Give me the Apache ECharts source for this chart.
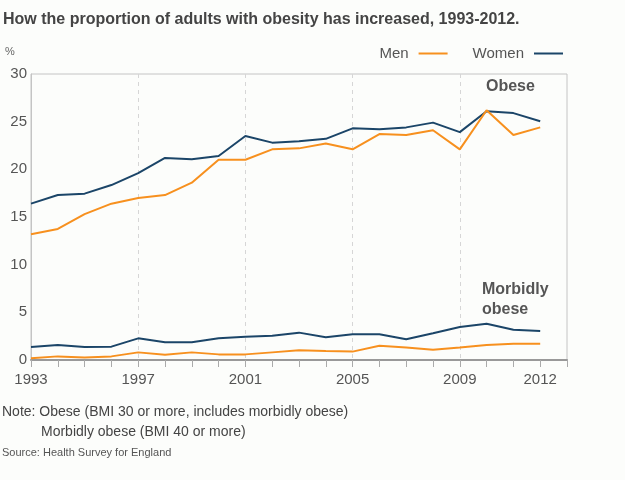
<!DOCTYPE html>
<html>
<head>
<meta charset="utf-8">
<script src="https://cdn.jsdelivr.net/npm/echarts@6/dist/echarts.min.js"></script>
<style>
html,body{margin:0;padding:0;background:#fcfdfb;}
#chart{width:625px;height:480px;}
</style>
</head>
<body>
<div id="chart"></div>
<script>
var years = ['1993','1994','1995','1996','1997','1998','1999','2000','2001','2002','2003','2004','2005','2006','2007','2008','2009','2010','2011','2012','2013'];
var xLabels = ['1993','1997','2001','2005','2009','2012'];
var dashedYears = ['1997','2001','2005','2009'];
var womenObese = [16.4,17.3,17.45,18.35,19.6,21.2,21.05,21.4,23.5,22.8,22.95,23.2,24.3,24.2,24.4,24.9,23.9,26.1,25.9,25.05];
var menObese = [13.2,13.75,15.3,16.4,17.0,17.3,18.6,21.0,21.0,22.1,22.2,22.7,22.1,23.7,23.6,24.1,22.1,26.2,23.6,24.4];
var womenMorbid = [1.37,1.57,1.37,1.4,2.27,1.85,1.85,2.27,2.45,2.55,2.87,2.38,2.7,2.7,2.17,2.8,3.46,3.81,3.18,3.04];
var menMorbid = [0.18,0.38,0.25,0.38,0.8,0.56,0.8,0.59,0.59,0.8,1.01,0.94,0.88,1.5,1.3,1.08,1.3,1.57,1.7,1.7];

var ORANGE = '#f7901e', BLUE = '#1b4568';
var FONT = '"Liberation Sans", Arial, Helvetica, sans-serif';

var chart = echarts.init(document.getElementById('chart'));
function lineSeries(name, data, color) {
  return {name: name, type: 'line', data: data, showSymbol: false, symbol: 'none',
    lineStyle: {color: color, width: 2}, itemStyle: {color: color}, silent: true, animation: false};
}
chart.setOption({
  backgroundColor: '#fcfdfb',
  animation: false,
  textStyle: {fontFamily: FONT},
  legend: {
    data: ['Men', 'Women'], right: 57, top: 41, align: 'right',
    itemWidth: 29, itemHeight: 2, itemGap: 25, icon: 'rect',
    textStyle: {fontSize: 15, color: '#555', fontFamily: FONT, padding: [0, 5, 0, 0]}
  },
  grid: {left: 31, right: 58, top: 74, bottom: 120, show: true, borderColor: '#c4c4c4', borderWidth: 1, backgroundColor: 'transparent'},
  xAxis: {
    type: 'category', data: years, boundaryGap: false,
    axisLine: {lineStyle: {color: '#999', width: 2}},
    axisTick: {show: true, interval: 0, length: 7, lineStyle: {color: '#aaa', width: 1}},
    axisLabel: {interval: function(i, v){ return xLabels.indexOf(v) >= 0; }, fontSize: 15, color: '#555', margin: 12, fontFamily: FONT},
    splitLine: {show: true, interval: function(i, v){ return dashedYears.indexOf(v) >= 0; }, lineStyle: {color: '#d6d6d6', type: [4, 4], width: 1}}
  },
  yAxis: {
    type: 'value', min: 0, max: 30, interval: 5,
    axisLine: {show: true, lineStyle: {color: '#c4c4c4', width: 1}},
    axisTick: {show: false},
    splitLine: {show: false},
    axisLabel: {fontSize: 15, color: '#555', margin: 4, fontFamily: FONT}
  },
  series: [
    lineSeries('Women', womenObese, BLUE),
    lineSeries('Men', menObese, ORANGE),
    lineSeries('Women', womenMorbid, BLUE),
    lineSeries('Men', menMorbid, ORANGE)
  ],
  graphic: [
    {type: 'text', left: 3, top: 12, style: {text: 'How the proportion of adults with obesity has increased, 1993-2012.', font: 'bold 16px ' + FONT, fill: '#444'}},
    {type: 'text', left: 5, top: 46, style: {text: '%', font: '11px ' + FONT, fill: '#666'}},
    {type: 'text', left: 486, top: 79, style: {text: 'Obese', font: 'bold 16px ' + FONT, fill: '#555'}},
    {type: 'text', left: 482, top: 280, style: {text: 'Morbidly\nobese', font: 'bold 16px ' + FONT, fill: '#555', lineHeight: 20}},
    {type: 'text', left: 2, top: 405, style: {text: 'Note: Obese (BMI 30 or more, includes morbidly obese)', font: '14px ' + FONT, fill: '#444'}},
    {type: 'text', left: 41, top: 425, style: {text: 'Morbidly obese (BMI 40 or more)', font: '14px ' + FONT, fill: '#444'}},
    {type: 'text', left: 2, top: 447, style: {text: 'Source: Health Survey for England', font: '11px ' + FONT, fill: '#555'}}
  ]
});
</script>
</body>
</html>
